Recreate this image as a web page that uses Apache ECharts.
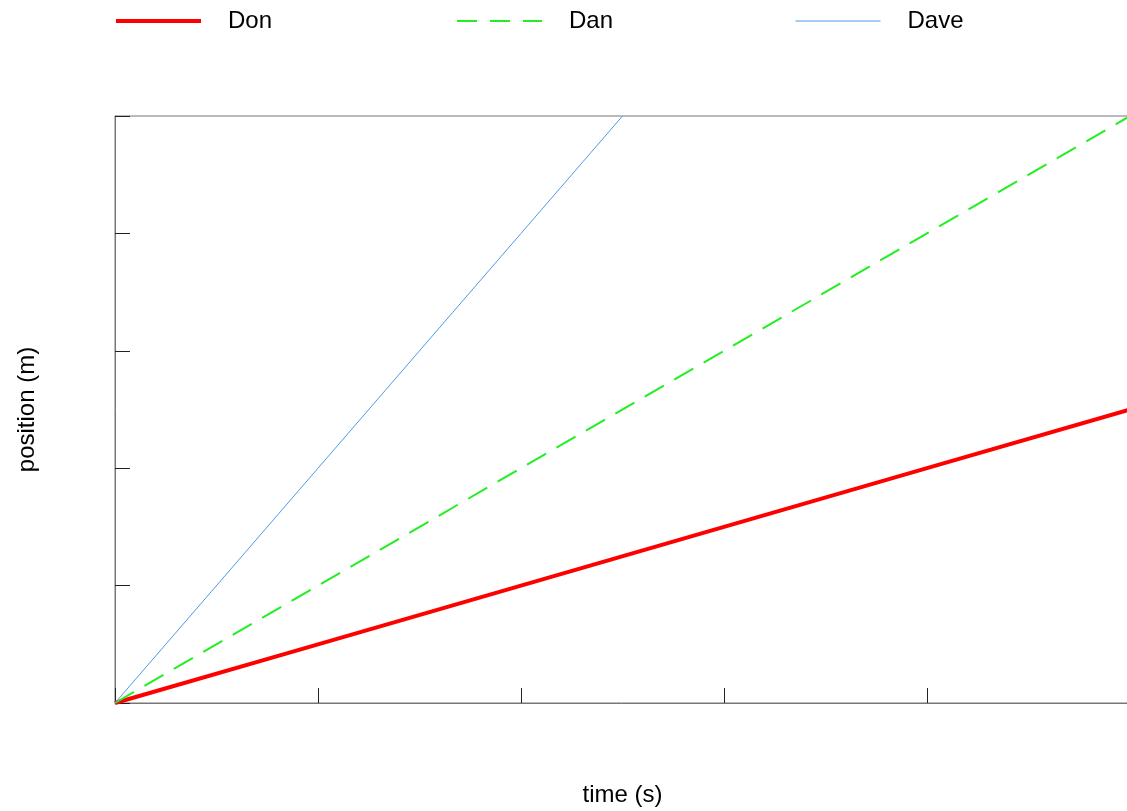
<!DOCTYPE html>
<html>
<head>
<meta charset="utf-8">
<script src="https://cdn.jsdelivr.net/npm/echarts@6/dist/echarts.min.js"></script>
<style>html,body{margin:0;padding:0;background:#fff}#c{width:1127px;height:811px}</style>
</head>
<body>
<div id="c"></div>
<script>
var time = [0, 1, 2, 3, 4, 5];
var donPos = [0, 0.5, 1, 1.5, 2, 2.5];
var danPos = [0, 1, 2, 3, 4, 5];
var daveTime = [0, 1, 2, 2.5];
var davePos = [0, 2, 4, 5];
var seriesNames = ['Don', 'Dan', 'Dave'];

function pairs(xs, ys) { return xs.map(function (x, i) { return [x, ys[i]]; }); }

var font = '"Liberation Sans", Arial, sans-serif';
var chart = echarts.init(document.getElementById('c'), null, {renderer: 'canvas'});
function legendAt(name, left, ls) {
  return {
    data: [name], left: left, top: 9, padding: 0, itemWidth: 85, itemHeight: 24,
    itemStyle: {opacity: 0},
    lineStyle: ls,
    textStyle: {fontFamily: font, fontSize: 24, color: '#000', padding: [0, 0, 0, 22]},
    selectedMode: false
  };
}
chart.setOption({
  animation: false,
  legend: [
    legendAt('Don', 114, {color: '#ff0000', width: 4}),
    legendAt('Dan', 456, {color: '#22ee22', width: 2, type: [20, 13]}),
    legendAt('Dave', 795, {color: '#4a9be8', width: 1})
  ],
  grid: {left: 115, top: 116, width: 1015, height: 587, outerBoundsMode: 'none', containLabel: false,
         show: true, borderColor: '#777', borderWidth: 1, backgroundColor: 'transparent'},
  xAxis: {
    type: 'value', min: 0, max: 5, interval: 1,
    name: 'time (s)', nameLocation: 'middle', nameGap: 80,
    nameTextStyle: {fontFamily: font, fontSize: 24, color: '#000'},
    axisLine: {show: true, lineStyle: {color: '#777', width: 1}},
    axisTick: {show: true, inside: true, length: 15, lineStyle: {color: '#222'}},
    axisLabel: {show: false}, splitLine: {show: false}
  },
  yAxis: {
    type: 'value', min: 0, max: 5, interval: 1,
    name: 'position (m)', nameLocation: 'middle', nameGap: 76, nameRotate: 90,
    nameTextStyle: {fontFamily: font, fontSize: 24, color: '#000'},
    axisLine: {show: true, lineStyle: {color: '#777', width: 1}},
    axisTick: {show: true, inside: true, length: 15, lineStyle: {color: '#222'}},
    axisLabel: {show: false}, splitLine: {show: false}
  },
  series: [
    {name: seriesNames[0], type: 'line', showSymbol: false, symbol: 'none', data: pairs(time, donPos),
     lineStyle: {color: '#ff0000', width: 4}, itemStyle: {color: '#ff0000'}},
    {name: seriesNames[1], type: 'line', showSymbol: false, symbol: 'none', data: pairs(time, danPos),
     lineStyle: {color: '#22ee22', width: 2, type: [22, 12]}, itemStyle: {color: '#22ee22'}},
    {name: seriesNames[2], type: 'line', showSymbol: false, symbol: 'none', data: pairs(daveTime, davePos),
     lineStyle: {color: '#4a9be8', width: 1}, itemStyle: {color: '#4a9be8'}}
  ]
});
</script>
</body>
</html>
